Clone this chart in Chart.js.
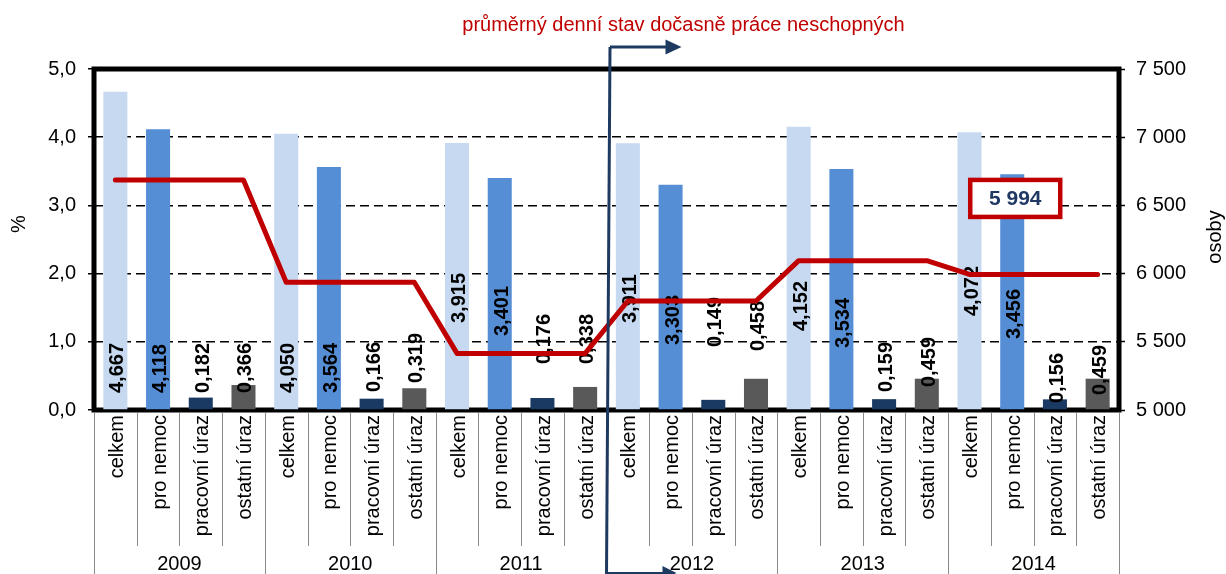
<!DOCTYPE html>
<html><head><meta charset="utf-8">
<script src="https://cdn.jsdelivr.net/npm/chart.js@4.4.1/dist/chart.umd.min.js"></script>
<style>html,body{margin:0;padding:0;background:#fff;}#wrap{width:1226px;height:574px;position:relative;}</style>
</head><body><div id="wrap"><canvas id="c" width="1226" height="574"></canvas></div>
<script>
// ---- data ----
const years = ['2009','2010','2011','2012','2013','2014'];
const categories = ['celkem','pro nemoc','pracovní úraz','ostatní úraz'];
const celkem = [4.667,4.050,3.915,3.911,4.152,4.072];
const proNemoc = [4.118,3.564,3.401,3.303,3.534,3.456];
const pracovniUraz = [0.182,0.166,0.176,0.149,0.159,0.156];
const ostatniUraz = [0.366,0.319,0.338,0.458,0.459,0.459];
const osoby = [6686,5936,5415,5799,6095,5994];
const pctTicks = [0,1,2,3,4,5];
const osobyTicks = [5000,5500,6000,6500,7000,7500];
const chartTitle = 'průměrný denní stav dočasně práce neschopných';
const leftTitle = '%';
const rightTitle = 'osoby';
const highlightYear = '2014';

// ---- styles / layout (not data) ----
const F = "'Liberation Sans', Arial, sans-serif";
const barColors = ['#C6D9F1','#558ED5','#1B3A63','#595959'];
const RED = '#C00000', NAVY = '#1F3A60';
// label lift above the axis (px), per bar
const labelLift = [17,17,17,17, 17,17,18,27, 87,74,46,46, 87,65,63,59, 79,62,18,23, 94,71,7,15];

// ---- build library tables ----
const series = [celkem, proNemoc, pracovniUraz, ostatniUraz];
const labels24 = [], bars24 = [], line24 = [], colors24 = [];
years.forEach((y, i) => {
  categories.forEach((c, j) => {
    labels24.push(c);
    bars24.push(series[j][i]);
    line24.push(osoby[i]);
    colors24.push(barColors[j]);
  });
});

const fmtPct = v => v.toFixed(1).replace('.', ',');
const fmt3 = v => v.toFixed(3).replace('.', ',');
const fmtThou = v => String(Math.round(v)).replace(/\B(?=(\d{3})+(?!\d))/g, ' ');

const frame = {
  id: 'frame',
  beforeDatasetsDraw(chart) {
    const {ctx, chartArea: a} = chart;
    ctx.save();
    ctx.lineWidth = 5; ctx.strokeStyle = '#000';
    ctx.strokeRect(a.left, a.top, a.right - a.left, a.bottom - a.top);
    ctx.restore();
  }
};

const barLabels = {
  id: 'barLabels',
  afterDatasetDraw(chart, args) {
    if (args.index !== 1) return;
    const {ctx, chartArea: a} = chart;
    const meta = chart.getDatasetMeta(1);
    ctx.save();
    ctx.font = `bold 20px ${F}`;
    ctx.fillStyle = '#000';
    ctx.textAlign = 'left'; ctx.textBaseline = 'middle';
    meta.data.forEach((el, i) => {
      ctx.save();
      ctx.translate(el.x + 2.5, a.bottom - labelLift[i]);
      ctx.rotate(-Math.PI / 2);
      ctx.fillText(fmt3(bars24[i]), 0, 0);
      ctx.restore();
    });
    ctx.restore();
  }
};

const extras = {
  id: 'extras',
  afterDraw(chart) {
    const {ctx, chartArea: a} = chart;
    const xs = chart.scales.x, y1 = chart.scales.y1;
    const n = labels24.length;
    const cw = (xs.right - xs.left) / n;
    const H = chart.height;
    ctx.save();
    // category separators
    ctx.strokeStyle = '#8a8a8a'; ctx.lineWidth = 1;
    for (let i = 0; i <= n; i++) {
      const x = Math.round(xs.left + i * cw) + 0.5;
      const yEnd = (i % 4 === 0) ? H : 546;
      ctx.beginPath(); ctx.moveTo(x, a.bottom + 3); ctx.lineTo(x, yEnd); ctx.stroke();
    }
    // year labels
    ctx.fillStyle = '#000'; ctx.font = `20px ${F}`;
    ctx.textAlign = 'center'; ctx.textBaseline = 'middle';
    years.forEach((y, i) => {
      ctx.fillText(y, xs.left + (i * 4 + 2) * cw, 564);
    });
    // axis titles
    const rot = (txt, x, y) => { ctx.save(); ctx.translate(x, y); ctx.rotate(-Math.PI/2); ctx.fillText(txt, 0, 0); ctx.restore(); };
    rot(leftTitle, 19, 224);
    rot(rightTitle, 1215, 237);
    // chart title
    ctx.fillStyle = RED; ctx.textBaseline = 'alphabetic';
    ctx.fillText(chartTitle, 683.5, 31);
    // arrow annotation at boundary between 2011 and 2012
    const bx = xs.left + 12 * cw;
    ctx.strokeStyle = NAVY; ctx.fillStyle = NAVY; ctx.lineWidth = 3;
    ctx.beginPath(); ctx.moveTo(bx + 3.5, 47); ctx.lineTo(bx, H); ctx.stroke();
    ctx.beginPath(); ctx.moveTo(bx + 3.5, 47); ctx.lineTo(bx + 62, 47); ctx.stroke();
    ctx.beginPath(); ctx.moveTo(bx + 59, 39.5); ctx.lineTo(bx + 75, 47); ctx.lineTo(bx + 59, 54.5); ctx.closePath(); ctx.fill();
    ctx.lineWidth = 2;
    ctx.beginPath(); ctx.moveTo(bx, 573); ctx.lineTo(bx + 58, 573); ctx.stroke();
    ctx.beginPath(); ctx.moveTo(bx + 56, 566); ctx.lineTo(bx + 70, 573); ctx.lineTo(bx + 56, 580); ctx.closePath(); ctx.fill();
    // highlight box for last value
    const yi = years.indexOf(highlightYear);
    const v = osoby[yi];
    const cx = xs.left + (yi * 4 + 1.5) * cw + 3;
    const cy = y1.getPixelForValue(v) - 76;
    const bw = 90, bh = 37;
    ctx.fillStyle = '#fff'; ctx.fillRect(cx - bw/2, cy - bh/2, bw, bh);
    ctx.strokeStyle = RED; ctx.lineWidth = 4.5; ctx.strokeRect(cx - bw/2, cy - bh/2, bw, bh);
    ctx.fillStyle = '#1F3864'; ctx.font = `bold 21px ${F}`;
    ctx.textAlign = 'center'; ctx.textBaseline = 'middle';
    ctx.fillText(fmtThou(v), cx, cy + 1);
    ctx.restore();
  }
};

new Chart(document.getElementById('c'), {
  data: {
    labels: labels24,
    datasets: [
      { type: 'line', data: line24, yAxisID: 'y1', order: 0,
        borderColor: RED, borderWidth: 5, pointRadius: 0, tension: 0,
        borderJoinStyle: 'round', borderCapStyle: 'round', fill: false },
      { type: 'bar', data: bars24, yAxisID: 'y', order: 1,
        backgroundColor: colors24, borderWidth: 0,
        categoryPercentage: 1, barPercentage: 0.5625 }
    ]
  },
  options: {
    responsive: false, animation: false, devicePixelRatio: 1,
    layout: { padding: { top: 69, left: 0, right: 0, bottom: 0 } },
    plugins: { legend: { display: false }, title: { display: false }, tooltip: { enabled: false } },
    scales: {
      x: {
        type: 'category', offset: true,
        grid: { display: false, drawTicks: false },
        border: { display: false },
        ticks: { autoSkip: false, maxRotation: 90, minRotation: 90, padding: 5, labelOffset: 2, color: '#000', font: { size: 20, family: F } },
        afterFit(s) { s.height = 164; }
      },
      y: {
        position: 'left', min: pctTicks[0], max: pctTicks[pctTicks.length - 1],
        afterBuildTicks(s) { s.ticks = pctTicks.map(v => ({ value: v })); },
        ticks: { callback: v => fmtPct(v), padding: 12, color: '#000', font: { size: 20, family: F } },
        grid: {
          color: c => (c.tick && c.tick.value > 0 && c.tick.value < 5) ? '#000' : 'rgba(0,0,0,0)',
          lineWidth: 1.5, tickColor: '#000', tickLength: 6, tickWidth: 1.5, tickBorderDash: []
        },
        border: { display: false, dash: [9, 5] },
        afterFit(s) { s.width = 94; }
      },
      y1: {
        position: 'right', min: osobyTicks[0], max: osobyTicks[osobyTicks.length - 1],
        afterBuildTicks(s) { s.ticks = osobyTicks.map(v => ({ value: v })); },
        ticks: { callback: v => fmtThou(v), padding: 11, color: '#000', font: { size: 20, family: F } },
        grid: { drawOnChartArea: false, tickColor: '#000', tickLength: 6, tickWidth: 1.5, tickBorderDash: [] },
        border: { display: false },
        afterFit(s) { s.width = 107; }
      }
    }
  },
  plugins: [frame, barLabels, extras]
});
</script></body></html>
